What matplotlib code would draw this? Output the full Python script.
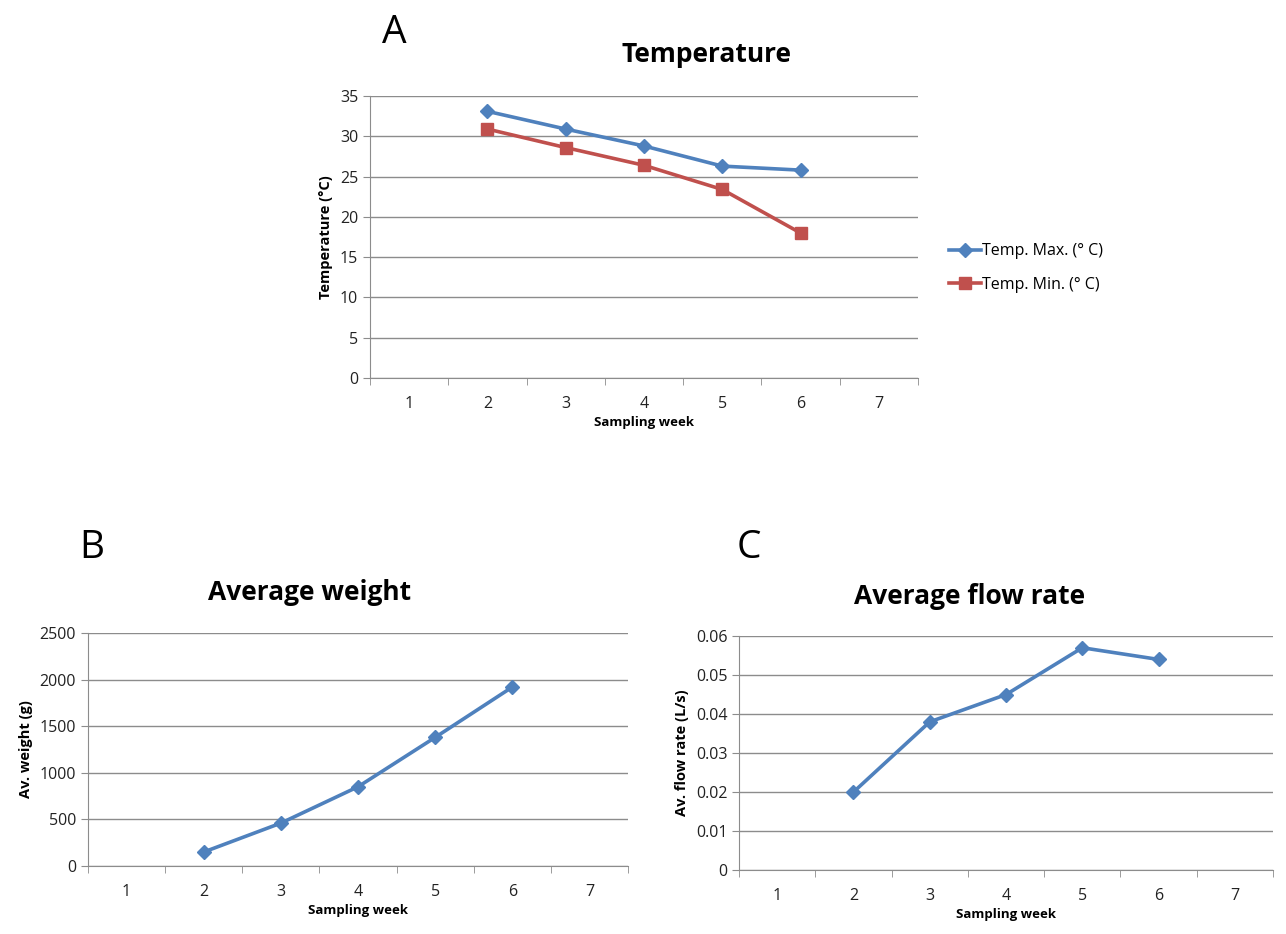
import matplotlib.pyplot as plt
from matplotlib.ticker import MultipleLocator, FixedLocator

# Data
weeks = [2, 3, 4, 5, 6]
week_ticks = [1, 2, 3, 4, 5, 6, 7]
temp_max = [33.1, 30.9, 28.8, 26.3, 25.8]
temp_min = [30.9, 28.6, 26.4, 23.4, 18.0]
avg_weight = [150, 460, 850, 1380, 1920]
avg_flow = [0.020, 0.038, 0.045, 0.057, 0.054]

blue = "#4F81BD"
red = "#C0504D"
grid_col = "#8C8C8C"

plt.rcParams["font.family"] = ["Open Sans", "DejaVu Sans"]

fig = plt.figure(figsize=(12.86, 9.34), dpi=100)


def excel_style(ax, ymax, ystep, ylabel, yfmt=None):
    ax.set_xlim(0.5, 7.5)
    ax.set_ylim(0, ymax)
    ax.xaxis.set_major_locator(FixedLocator(week_ticks))
    ax.xaxis.set_minor_locator(FixedLocator([x + 0.5 for x in range(0, 8)]))
    ax.tick_params(axis="x", which="major", length=0, pad=13, labelsize=11.5, colors="#222222")
    ax.tick_params(axis="x", which="minor", length=5, color=grid_col, direction="out")
    ax.yaxis.set_major_locator(MultipleLocator(ystep))
    ax.tick_params(axis="y", length=5, color=grid_col, labelsize=11.5, colors="#222222")
    if yfmt:
        ax.yaxis.set_major_formatter(yfmt)
    ax.grid(axis="y", color=grid_col, linewidth=1)
    ax.set_axisbelow(True)
    for s in ["top", "right"]:
        ax.spines[s].set_visible(False)
    for s in ["left", "bottom"]:
        ax.spines[s].set_color(grid_col)
    ax.set_xlabel("Sampling week", fontsize=9.5, fontweight="bold", labelpad=3)
    ax.set_ylabel(ylabel, fontsize=10.5, fontweight="bold", labelpad=5)


# A: temperature
axA = fig.add_axes([0.2877, 0.5953, 0.4261, 0.3019])
axA.plot(weeks, temp_max, color=blue, lw=2.6, marker="D", ms=7, label="Temp. Max. (° C)")
axA.plot(weeks, temp_min, color=red, lw=2.6, marker="s", ms=9, label="Temp. Min. (° C)")
excel_style(axA, 35, 5, "Temperature (°C)")
fig.text(707 / 1286, 1 - 55 / 934, "Temperature", fontsize=19, fontweight="bold",
         ha="center", va="center")
axA.legend(loc="center left", bbox_to_anchor=(1.03, 0.39), frameon=False,
           fontsize=11.5, handlelength=2.0, labelspacing=1.1, handletextpad=0.1)
fig.text(0.297, 0.965, "A", fontsize=28, ha="left", va="center")

# B: average weight
axB = fig.add_axes([0.0684, 0.0728, 0.42, 0.2495])
axB.plot(weeks, avg_weight, color=blue, lw=2.6, marker="D", ms=7)
excel_style(axB, 2500, 500, "Av. weight (g)")
fig.text(310 / 1286, 1 - 592 / 934, "Average weight", fontsize=19, fontweight="bold",
         ha="center", va="center")
fig.text(0.062, 0.413, "B", fontsize=28, ha="left", va="center")

# C: average flow rate
axC = fig.add_axes([0.5747, 0.0685, 0.4152, 0.2505])
axC.plot(weeks, avg_flow, color=blue, lw=2.6, marker="D", ms=7)
excel_style(axC, 0.06, 0.01, "Av. flow rate (L/s)",
            yfmt=lambda v, p: "0" if v == 0 else f"{v:.2f}")
fig.text(970 / 1286, 1 - 597 / 934, "Average flow rate", fontsize=19, fontweight="bold",
         ha="center", va="center")
fig.text(0.573, 0.413, "C", fontsize=28, ha="left", va="center")

fig.savefig("out.png", dpi=100, facecolor="white")
